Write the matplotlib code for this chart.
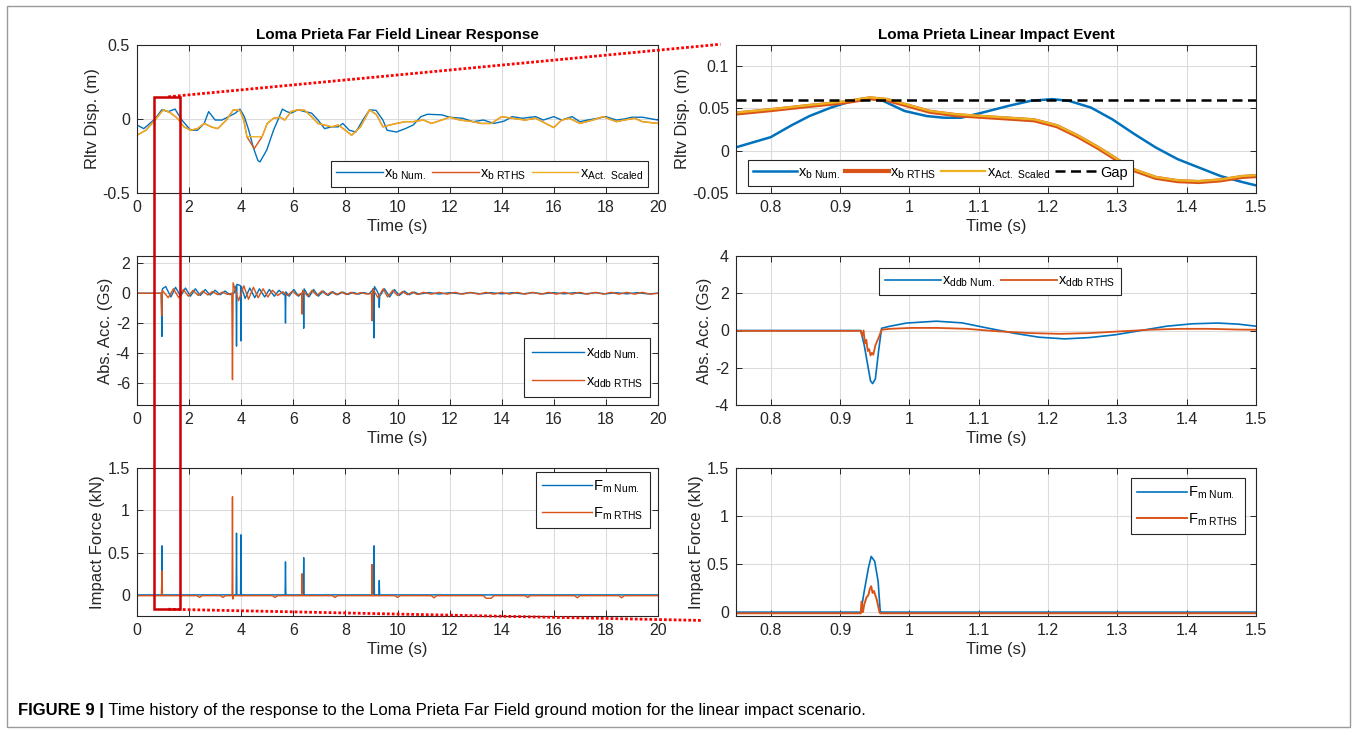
import matplotlib
matplotlib.use("Agg")
import matplotlib.pyplot as plt
import numpy as np
from matplotlib import font_manager
from matplotlib.patches import Rectangle, ConnectionPatch
from matplotlib.ticker import FuncFormatter

W, H = 1357, 733

# ---------------- full record, 0 - 20 s ----------------
# relative displacement (m), (time, value) pairs
disp_num = [(0.0, -0.041), (0.26, -0.065), (0.69, 0.0), (0.95, 0.062), (1.2, 0.05),
            (1.46, 0.067), (1.72, -0.007), (2.06, -0.076), (2.32, -0.076), (2.58, -0.03),
            (2.75, 0.05), (3.0, -0.007), (3.26, -0.007), (3.52, 0.016), (3.78, 0.04),
            (3.95, 0.067), (4.12, 0.016), (4.29, -0.076), (4.46, -0.19), (4.64, -0.28),
            (4.72, -0.29), (4.98, -0.21), (5.24, -0.076), (5.41, -0.007), (5.58, 0.067),
            (5.75, 0.05), (5.92, 0.04), (6.18, 0.062), (6.44, 0.05), (6.7, 0.04),
            (6.95, -0.007), (7.2, -0.065), (7.47, -0.053), (7.73, -0.053), (7.9, -0.03),
            (8.15, -0.076), (8.4, -0.088), (8.67, -0.007), (8.93, 0.062), (9.18, 0.058),
            (9.44, -0.007), (9.6, -0.076), (9.96, -0.088), (10.3, -0.065), (10.6, -0.041),
            (10.9, 0.016), (11.15, 0.032), (11.7, 0.028), (12.0, 0.012), (12.5, 0.005),
            (12.9, -0.018), (13.3, -0.007), (13.7, -0.03), (14.1, -0.014), (14.4, 0.016),
            (14.8, 0.005), (15.3, 0.016), (15.6, -0.007), (16.0, 0.016), (16.3, -0.007),
            (16.5, 0.005), (16.7, 0.016), (17.0, -0.018), (17.3, -0.007), (17.7, 0.005),
            (18.0, 0.016), (18.4, -0.007), (18.7, 0.0), (19.0, 0.012), (19.4, 0.012),
            (20.0, -0.007)]
disp_act = [(0.0, -0.11), (0.34, -0.076), (0.69, -0.007), (0.95, 0.05), (1.03, 0.062),
            (1.3, 0.04), (1.55, 0.005), (1.8, -0.053), (2.06, -0.076), (2.32, -0.065),
            (2.58, -0.03), (2.85, -0.053), (3.1, -0.065), (3.43, -0.007), (3.7, 0.062),
            (3.95, 0.058), (4.1, -0.007), (4.22, -0.12), (4.8, -0.12), (5.0, -0.03),
            (5.24, 0.005), (5.5, 0.012), (5.67, -0.007), (5.92, 0.05), (6.18, 0.062),
            (6.44, 0.058), (6.7, 0.016), (6.95, -0.03), (7.2, -0.041), (7.47, -0.053),
            (7.73, -0.041), (8.0, -0.076), (8.24, -0.11), (8.58, -0.053), (8.93, 0.062),
            (9.2, 0.028), (9.44, -0.053), (9.7, -0.041), (9.96, -0.03), (10.3, -0.018),
            (10.6, -0.018), (11.0, -0.007), (11.3, -0.03), (11.7, -0.007), (12.0, 0.012),
            (12.4, -0.007), (12.9, -0.018), (13.2, -0.03), (13.6, -0.03), (14.0, 0.016),
            (14.4, 0.005), (14.9, -0.007), (15.3, 0.005), (16.0, -0.058), (16.3, -0.007),
            (16.6, 0.005), (17.0, -0.03), (17.5, -0.007), (17.9, 0.016), (18.4, -0.018),
            (18.7, -0.007), (19.1, 0.005), (19.4, -0.018), (20.0, -0.03)]
disp_rths = [(0.0, -0.11), (0.34, -0.076), (0.69, -0.007), (0.95, 0.05), (1.03, 0.062),
             (1.3, 0.04), (1.55, 0.005), (1.8, -0.053), (2.06, -0.076), (2.32, -0.065),
             (2.58, -0.03), (2.85, -0.053), (3.1, -0.065), (3.43, -0.007), (3.7, 0.062),
             (3.95, 0.058), (4.1, -0.007), (4.22, -0.12), (4.5, -0.2), (4.8, -0.12),
             (5.0, -0.03), (5.24, 0.005), (5.5, 0.012), (5.67, -0.007), (5.92, 0.05),
             (6.18, 0.062), (6.44, 0.058), (6.7, 0.016), (6.95, -0.03), (7.2, -0.041),
             (7.47, -0.053), (7.73, -0.041), (8.0, -0.076), (8.24, -0.11), (8.58, -0.053),
             (8.93, 0.062), (9.2, 0.028), (9.44, -0.053), (9.7, -0.041), (9.96, -0.03),
             (10.3, -0.018), (10.6, -0.018), (11.0, -0.007), (11.3, -0.03), (11.7, -0.007),
             (12.0, 0.012), (12.4, -0.007), (12.9, -0.018), (13.2, -0.03), (13.6, -0.03),
             (14.0, 0.016), (14.4, 0.005), (14.9, -0.007), (15.3, 0.005), (16.0, -0.058),
             (16.3, -0.007), (16.6, 0.005), (17.0, -0.03), (17.5, -0.007), (17.9, 0.016),
             (18.4, -0.018), (18.7, -0.007), (19.1, 0.005), (19.4, -0.018), (20.0, -0.03)]

# absolute acceleration (Gs)
acc_num = [(0.0, 0.0), (0.93, 0.0), (0.955, -2.9), (0.975, 0.3), (1.1, 0.45), (1.3, -0.25),
           (1.48, 0.4), (1.67, -0.2), (1.86, 0.35), (2.05, -0.2), (2.24, 0.3), (2.43, -0.15),
           (2.62, 0.25), (2.81, -0.12), (3.0, 0.2), (3.19, -0.1), (3.38, 0.15), (3.57, -0.1),
           (3.74, 0.05), (3.805, 0.5), (3.82, -3.55), (3.835, 0.6), (3.92, 0.55), (3.975, 0.5),
           (3.99, -3.2), (4.005, 0.45), (4.15, -0.35), (4.33, 0.35), (4.52, -0.3), (4.7, 0.3),
           (4.9, -0.25), (5.08, 0.25), (5.27, -0.2), (5.45, 0.2), (5.64, -0.1), (5.685, -0.05),
           (5.7, -2.0), (5.715, 0.1), (5.84, -0.2), (6.02, 0.25), (6.2, -0.2), (6.385, 0.1),
           (6.4, -2.35), (6.415, 0.3), (6.6, -0.25), (6.78, 0.25), (6.96, -0.2), (7.15, 0.15),
           (7.34, -0.15), (7.52, 0.1), (7.7, -0.1), (7.9, 0.08), (8.1, -0.08), (8.3, 0.06),
           (8.5, -0.06), (8.7, 0.05), (8.9, -0.05), (9.085, 0.3), (9.1, -3.0), (9.115, 0.45),
           (9.2, 0.2), (9.285, -0.1), (9.3, -0.95), (9.315, -0.2), (9.5, 0.3), (9.7, -0.25),
           (9.88, 0.25), (10.07, -0.15), (10.26, 0.15), (10.45, -0.1), (10.64, 0.08),
           (10.83, -0.06), (11.2, 0.05), (11.6, -0.05), (12.0, 0.04), (12.4, -0.04),
           (12.8, 0.04), (13.2, -0.04), (13.6, 0.04), (14.0, -0.04), (14.4, 0.04),
           (14.8, -0.04), (15.2, 0.04), (15.6, -0.04), (16.0, 0.04), (16.4, -0.04),
           (16.8, 0.04), (17.2, -0.04), (17.6, 0.04), (18.0, -0.04), (18.4, 0.04),
           (18.8, -0.04), (19.2, 0.04), (19.6, -0.04), (20.0, 0.0)]
acc_rths = [(0.0, 0.0), (0.93, 0.0), (0.95, -1.5), (0.97, 0.2), (1.2, -0.3), (1.4, 0.3),
            (1.6, -0.3), (1.78, 0.25), (1.97, -0.2), (2.15, 0.2), (2.35, -0.15), (2.53, 0.15),
            (2.72, -0.12), (2.9, 0.12), (3.1, -0.1), (3.28, 0.08), (3.47, -0.08), (3.64, 0.0),
            (3.665, -5.8), (3.69, 0.7), (3.9, -0.5), (4.1, 0.5), (4.28, -0.4), (4.47, 0.4),
            (4.65, -0.3), (4.84, 0.3), (5.02, -0.25), (5.2, 0.2), (5.4, -0.15), (5.6, 0.1),
            (5.78, -0.15), (5.97, 0.15), (6.15, -0.15), (6.32, 0.0), (6.34, -1.4), (6.36, 0.2),
            (6.55, -0.2), (6.72, 0.2), (6.9, -0.15), (7.1, 0.15), (7.28, -0.12), (7.47, 0.1),
            (7.65, -0.1), (7.85, 0.08), (8.03, -0.08), (8.22, 0.06), (8.4, -0.06), (8.6, 0.05),
            (8.8, -0.05), (9.0, 0.0), (9.025, -1.85), (9.05, 0.3), (9.25, -0.3), (9.45, 0.3),
            (9.62, -0.25), (9.82, 0.2), (10.0, -0.15), (10.2, 0.12), (10.38, -0.1),
            (10.57, 0.08), (10.76, -0.08), (11.0, 0.06), (11.3, -0.06), (11.6, 0.06),
            (11.9, -0.06), (12.2, 0.06), (12.5, -0.06), (12.8, 0.06), (13.1, -0.06),
            (13.4, 0.06), (13.7, -0.06), (14.0, 0.06), (14.3, -0.06), (14.6, 0.06),
            (14.9, -0.06), (15.2, 0.06), (15.5, -0.06), (15.8, 0.06), (16.1, -0.06),
            (16.4, 0.06), (16.7, -0.06), (17.0, 0.06), (17.3, -0.06), (17.6, 0.06),
            (17.9, -0.06), (18.2, 0.06), (18.5, -0.06), (18.8, 0.06), (19.1, -0.06),
            (19.4, 0.06), (19.7, -0.06), (20.0, 0.0)]

# impact force (kN)
force_num = [(0.0, 0.0), (0.945, 0.0), (0.96, 0.58), (0.975, 0.0), (3.805, 0.0), (3.82, 0.73),
             (3.835, 0.0), (3.975, 0.0), (3.99, 0.71), (4.005, 0.0), (5.685, 0.0), (5.7, 0.39),
             (5.715, 0.0), (6.385, 0.0), (6.4, 0.44), (6.415, 0.0), (9.085, 0.0), (9.1, 0.58),
             (9.115, 0.0), (9.285, 0.0), (9.3, 0.17), (9.315, 0.0), (20.0, 0.0)]
force_rths = [(0.0, -0.01), (0.94, -0.01), (0.955, 0.28), (0.97, -0.01), (2.3, -0.01),
              (2.4, -0.03), (2.5, -0.01), (3.2, -0.01), (3.3, -0.03), (3.4, -0.01),
              (3.65, -0.01), (3.665, 1.16), (3.68, -0.05), (3.7, -0.01), (5.2, -0.01),
              (5.3, -0.03), (5.4, -0.01), (6.325, -0.01), (6.34, 0.25), (6.355, -0.01),
              (7.5, -0.01), (7.6, -0.03), (7.7, -0.01), (9.01, -0.01), (9.025, 0.36),
              (9.04, -0.01), (9.9, -0.01), (10.0, -0.03), (10.1, -0.01), (11.3, -0.01),
              (11.4, -0.035), (11.5, -0.01), (13.3, -0.01), (13.4, -0.04), (13.6, -0.04),
              (13.7, -0.01), (14.9, -0.01), (15.0, -0.03), (15.1, -0.01), (16.8, -0.01),
              (16.9, -0.035), (17.0, -0.01), (18.5, -0.01), (18.6, -0.035), (18.7, -0.01),
              (20.0, -0.01)]

# ---------------- impact event, 0.75 - 1.5 s ----------------
ev_disp_num = [(0.75, 0.004), (0.8, 0.016), (0.83, 0.03), (0.856, 0.041), (0.887, 0.051),
               (0.918, 0.059), (0.943, 0.062), (0.962, 0.059), (0.993, 0.047), (1.025, 0.041),
               (1.05, 0.039), (1.075, 0.039), (1.105, 0.045), (1.143, 0.053), (1.175, 0.059),
               (1.206, 0.061), (1.23, 0.059), (1.262, 0.051), (1.293, 0.037), (1.324, 0.02),
               (1.355, 0.004), (1.387, -0.01), (1.418, -0.02), (1.449, -0.03), (1.48, -0.037),
               (1.5, -0.041)]
ev_disp_act = [(0.75, 0.045), (0.8, 0.049), (0.856, 0.054), (0.905, 0.058), (0.943, 0.063),
               (0.968, 0.061), (0.999, 0.054), (1.03, 0.047), (1.068, 0.043), (1.105, 0.041),
               (1.143, 0.039), (1.18, 0.037), (1.213, 0.03), (1.243, 0.018), (1.273, 0.004),
               (1.3, -0.01), (1.324, -0.022), (1.355, -0.031), (1.387, -0.035), (1.418, -0.036),
               (1.449, -0.034), (1.48, -0.03), (1.5, -0.029)]
ev_disp_rths = [(0.75, 0.044), (0.8, 0.048), (0.856, 0.053), (0.905, 0.057), (0.943, 0.062),
                (0.968, 0.06), (0.999, 0.053), (1.03, 0.046), (1.068, 0.042), (1.105, 0.04),
                (1.143, 0.038), (1.18, 0.036), (1.213, 0.029), (1.243, 0.017), (1.273, 0.003),
                (1.3, -0.011), (1.324, -0.023), (1.355, -0.032), (1.387, -0.036),
                (1.418, -0.037), (1.449, -0.035), (1.48, -0.031), (1.5, -0.03)]
gap = 0.06

ev_acc_num = [(0.75, 0.0), (0.93, 0.0), (0.935, -0.8), (0.941, -2.07), (0.944, -2.7),
              (0.947, -2.85), (0.951, -2.6), (0.956, -1.0), (0.96, 0.12), (0.972, 0.23),
              (0.996, 0.4), (1.039, 0.5), (1.076, 0.41), (1.113, 0.13), (1.15, -0.14),
              (1.187, -0.36), (1.224, -0.45), (1.26, -0.38), (1.297, -0.23), (1.334, 0.0),
              (1.371, 0.23), (1.408, 0.36), (1.445, 0.4), (1.475, 0.34), (1.5, 0.23)]
ev_acc_rths = [(0.75, -0.02), (0.93, -0.02), (0.932, -0.3), (0.934, 0.0), (0.936, -0.7),
               (0.938, -0.5), (0.94, -1.1), (0.942, -1.0), (0.944, -1.34), (0.946, -1.2),
               (0.948, -1.3), (0.951, -0.8), (0.956, -0.36), (0.96, 0.04), (0.972, 0.09),
               (1.003, 0.14), (1.04, 0.14), (1.083, 0.09), (1.126, -0.04), (1.175, -0.14),
               (1.218, -0.18), (1.26, -0.14), (1.303, -0.05), (1.346, 0.04), (1.39, 0.09),
               (1.432, 0.09), (1.475, 0.05), (1.5, 0.04)]

ev_force_num = [(0.75, 0.0), (0.93, 0.0), (0.935, 0.22), (0.941, 0.46), (0.945, 0.58),
                (0.95, 0.53), (0.955, 0.32), (0.958, 0.01), (0.96, 0.0), (1.5, 0.0)]
ev_force_rths = [(0.75, -0.012), (0.93, -0.012), (0.931, 0.11), (0.933, 0.0), (0.935, 0.08),
                 (0.938, 0.15), (0.941, 0.18), (0.943, 0.24), (0.945, 0.27), (0.947, 0.2),
                 (0.949, 0.22), (0.953, 0.13), (0.957, 0.0), (0.958, -0.012), (1.5, -0.012)]

# ticks / labels
full_xticks = [0, 2, 4, 6, 8, 10, 12, 14, 16, 18, 20]
ev_xticks = [0.8, 0.9, 1.0, 1.1, 1.2, 1.3, 1.4, 1.5]
title_left = "Loma Prieta Far Field Linear Response"
title_right = "Loma Prieta Linear Impact Event"
ylabels = ["Rltv Disp. (m)", "Abs. Acc. (Gs)", "Impact Force (kN)"]
caption_bold = "FIGURE 9 |"
caption_text = " Time history of the response to the Loma Prieta Far Field ground motion for the linear impact scenario."

C_BLUE = "#0072BD"
C_RED = "#D95319"
C_YEL = "#EDB120"
C_AX = "#262626"


def pick_font(names):
    for n in names:
        try:
            font_manager.findfont(n, fallback_to_default=False)
            return n
        except ValueError:
            continue
    return "DejaVu Sans"


FONT = pick_font(["Liberation Sans Narrow", "Liberation Sans", "Arial"])
plt.rcParams["font.family"] = [FONT, "DejaVu Sans"]
plt.rcParams["mathtext.default"] = "regular"
plt.rcParams["axes.unicode_minus"] = False


def xy(pairs):
    a = np.array(pairs, dtype=float)
    return a[:, 0], a[:, 1]


def px_axes(fig, x0, y0, x1, y1):
    return fig.add_axes([x0 / W, 1 - y1 / H, (x1 - x0) / W, (y1 - y0) / H])


def style(ax, xlim, xticks, ylim, yticks, ylabel):
    ax.set_xlim(*xlim)
    ax.set_ylim(*ylim)
    ax.set_xticks(xticks)
    ax.set_yticks(yticks)
    fmt = FuncFormatter(lambda v, p: f"{v:g}")
    ax.xaxis.set_major_formatter(fmt)
    ax.yaxis.set_major_formatter(fmt)
    ax.grid(True, color="#dcdcdc", lw=0.8)
    ax.set_axisbelow(True)
    for s in ax.spines.values():
        s.set_color(C_AX)
        s.set_linewidth(0.8)
    ax.tick_params(direction="in", top=True, right=True, length=4, width=0.7,
                   color=C_AX, labelsize=11.5, labelcolor=C_AX, pad=5)
    ax.set_xlabel("Time (s)", fontsize=12, color=C_AX, labelpad=3)
    ax.set_ylabel(ylabel, fontsize=12, color=C_AX, labelpad=2)


def leg(ax, **kw):
    lg = ax.legend(fancybox=False, framealpha=1, edgecolor=C_AX, fontsize=10.5,
                   borderaxespad=0, **kw)
    lg.get_frame().set_linewidth(0.8)
    return lg


fig = plt.figure(figsize=(W / 100, H / 100), dpi=100)

rows = [(45, 193), (256, 405), (468, 616)]
ax1 = px_axes(fig, 137, rows[0][0], 658, rows[0][1])
ax2 = px_axes(fig, 137, rows[1][0], 658, rows[1][1])
ax3 = px_axes(fig, 137, rows[2][0], 658, rows[2][1])
ax4 = px_axes(fig, 736, rows[0][0], 1256, rows[0][1])
ax5 = px_axes(fig, 736, rows[1][0], 1256, rows[1][1])
ax6 = px_axes(fig, 736, rows[2][0], 1256, rows[2][1])

# --- left column ---
ax1.plot(*xy(disp_num), color=C_BLUE, lw=1.0, label="x$_{b\\ Num.}$")
ax1.plot(*xy(disp_rths), color=C_RED, lw=1.0, label="x$_{b\\ RTHS}$")
ax1.plot(*xy(disp_act), color=C_YEL, lw=1.0, label="x$_{Act.\\ Scaled}$")
style(ax1, (0, 20), full_xticks, (-0.5, 0.5), [-0.5, 0, 0.5], ylabels[0])
ax1.set_title(title_left, fontsize=11, fontweight="bold", color="black", pad=4)
leg(ax1, loc="lower right", bbox_to_anchor=(0.981, 0.04), ncol=3, handlelength=3.2,
    columnspacing=0.4, handletextpad=0.1, borderpad=0.35)

ax2.plot(*xy(acc_num), color=C_BLUE, lw=1.0, label="x$_{ddb\\ Num.}$")
ax2.plot(*xy(acc_rths), color=C_RED, lw=1.0, label="x$_{ddb\\ RTHS}$")
style(ax2, (0, 20), full_xticks, (-7.5, 2.5), [-6, -4, -2, 0, 2], ylabels[1])
leg(ax2, loc="lower right", bbox_to_anchor=(0.985, 0.054), handlelength=3.6,
    handletextpad=0.1, labelspacing=0.9, borderpad=0.5)

ax3.plot(*xy(force_num), color=C_BLUE, lw=1.0, label="F$_{m\\ Num.}$")
ax3.plot(*xy(force_rths), color=C_RED, lw=1.0, label="F$_{m\\ RTHS}$")
style(ax3, (0, 20), full_xticks, (-0.25, 1.5), [0, 0.5, 1, 1.5], ylabels[2])
leg(ax3, loc="upper right", bbox_to_anchor=(0.985, 0.973), handlelength=3.4,
    handletextpad=0.1, labelspacing=0.7, borderpad=0.45)

# --- right column ---
ax4.plot(*xy(ev_disp_num), color=C_BLUE, lw=1.8, label="x$_{b\\ Num.}$")
ax4.plot(*xy(ev_disp_rths), color=C_RED, lw=3.0, label="x$_{b\\ RTHS}$")
ax4.plot(*xy(ev_disp_act), color=C_YEL, lw=1.6, label="x$_{Act.\\ Scaled}$")
ax4.axhline(gap, color="black", lw=1.8, dashes=(4, 2.2), label="Gap")
style(ax4, (0.75, 1.5), ev_xticks, (-0.05, 0.125), [-0.05, 0, 0.05, 0.1], ylabels[0])
ax4.set_title(title_right, fontsize=11, fontweight="bold", color="black", pad=4)
leg(ax4, loc="lower left", bbox_to_anchor=(0.023, 0.047), ncol=4, handlelength=3.0,
    columnspacing=0.35, handletextpad=0.1, borderpad=0.35)

ax5.plot(*xy(ev_acc_num), color=C_BLUE, lw=1.2, label="x$_{ddb\\ Num.}$")
ax5.plot(*xy(ev_acc_rths), color=C_RED, lw=1.3, label="x$_{ddb\\ RTHS}$")
style(ax5, (0.75, 1.5), ev_xticks, (-4, 4), [-4, -2, 0, 2, 4], ylabels[1])
leg(ax5, loc="upper center", bbox_to_anchor=(0.508, 0.92), ncol=2, handlelength=3.8,
    columnspacing=0.4, handletextpad=0.1, borderpad=0.4)

ax6.plot(*xy(ev_force_num), color=C_BLUE, lw=1.2, label="F$_{m\\ Num.}$")
ax6.plot(*xy(ev_force_rths), color=C_RED, lw=1.4, label="F$_{m\\ RTHS}$")
style(ax6, (0.75, 1.5), ev_xticks, (-0.04, 1.5), [0, 0.5, 1, 1.5], ylabels[2])
leg(ax6, loc="upper right", bbox_to_anchor=(0.979, 0.932), handlelength=3.4,
    handletextpad=0.1, labelspacing=0.7, borderpad=0.45)

# --- zoom window marker across the left column ---
zoom_t = (0.65, 1.65)
zoom_top = 0.15     # in displacement axes
zoom_bot = -0.17    # in force axes
inv = fig.transFigure.inverted()
p_tl = inv.transform(ax1.transData.transform((zoom_t[0], zoom_top)))
p_br = inv.transform(ax3.transData.transform((zoom_t[1], zoom_bot)))
fig.patches.append(Rectangle((p_tl[0], p_br[1]), p_br[0] - p_tl[0], p_tl[1] - p_br[1],
                             transform=fig.transFigure, fill=False, ec="#C80000", lw=1.8,
                             zorder=10))
for axa, ya, axb, pb in [(ax1, zoom_top, ax4, (-0.03, 1.005)),
                         (ax3, zoom_bot, ax6, (-0.067, -0.03))]:
    cp = ConnectionPatch(xyA=(1.2, ya), coordsA=axa.transData, xyB=pb,
                         coordsB=axb.transAxes, color="#FF0000", lw=2.0,
                         linestyle=(0, (1.0, 0.75)), capstyle="butt", zorder=10)
    fig.add_artist(cp)

# --- outer frame and caption ---
fig.patches.append(Rectangle((7 / W, 1 - 727 / H), (1350 - 7) / W, (727 - 6) / H,
                             transform=fig.transFigure, fill=False, ec="#9a9a9a", lw=1.0))
t1 = fig.text(18 / W, 1 - 711 / H, caption_bold, fontsize=12, fontweight="bold",
              va="center", ha="left")
fig.canvas.draw()
bb = t1.get_window_extent()
fig.text(bb.x1 / W, 1 - 711 / H, caption_text, fontsize=12, va="center", ha="left")

fig.savefig("out.png", dpi=100)
